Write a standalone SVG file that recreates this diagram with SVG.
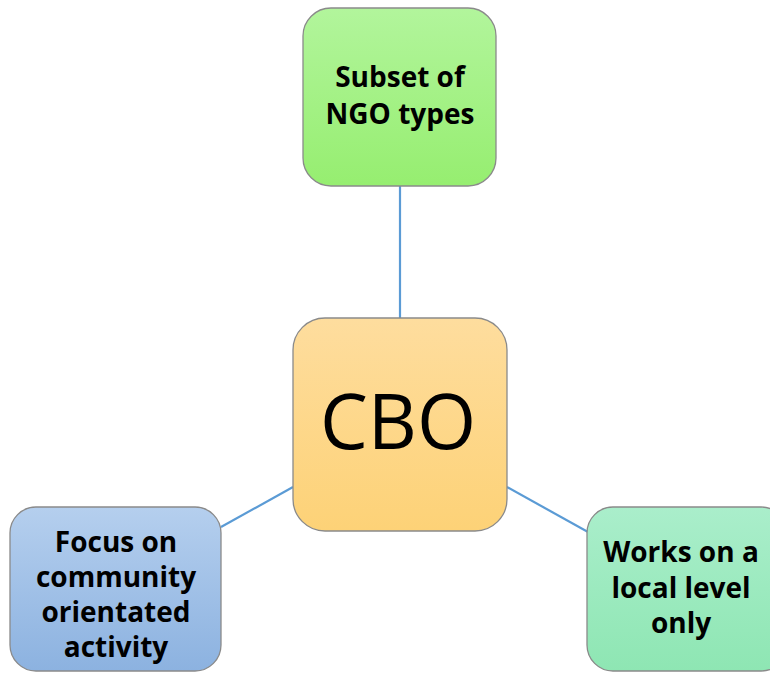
<svg xmlns="http://www.w3.org/2000/svg" width="770" height="673" viewBox="0 0 770 673">
<style>
.box{stroke:#8a8a8a;stroke-width:1.3}
.lbl{font-family:"Open Sans","Liberation Sans",sans-serif;font-weight:bold;font-size:28px;fill:#000;text-anchor:middle}
.big{font-family:"Open Sans","Liberation Sans",sans-serif;font-size:76px;fill:#000;text-anchor:middle}
.conn{stroke:#5b9bd5;stroke-width:2.2;fill:none}
</style>
<defs>
<linearGradient id="gTop" x1="0" y1="0" x2="0" y2="1"><stop offset="0" stop-color="#b2f59c"/><stop offset="1" stop-color="#96ee70"/></linearGradient>
<linearGradient id="gCtr" x1="0" y1="0" x2="0" y2="1"><stop offset="0" stop-color="#fedd9e"/><stop offset="1" stop-color="#fdd277"/></linearGradient>
<linearGradient id="gLeft" x1="0" y1="0" x2="0" y2="1"><stop offset="0" stop-color="#b5cfee"/><stop offset="1" stop-color="#8cb2e0"/></linearGradient>
<linearGradient id="gRight" x1="0" y1="0" x2="0" y2="1"><stop offset="0" stop-color="#aaeecb"/><stop offset="1" stop-color="#8ee6b3"/></linearGradient>
</defs>
<rect width="770" height="673" fill="#fff"/>
<g id="connectors">
<line class="conn" x1="400" y1="186" x2="400" y2="318"/>
<line class="conn" x1="293" y1="487" x2="221" y2="527"/>
<line class="conn" x1="507" y1="487" x2="588" y2="532"/>
</g>
<g id="node-top">
<rect class="box" x="303" y="8" width="193" height="178" rx="28" fill="url(#gTop)"/>
<text class="lbl" x="400" y="87">Subset of</text>
<text class="lbl" x="400" y="124">NGO types</text>
</g>
<g id="node-center">
<rect class="box" x="293" y="318" width="214" height="213" rx="32" fill="url(#gCtr)"/>
<text class="big" x="398" y="449">CBO</text>
</g>
<g id="node-left">
<rect class="box" x="10" y="507" width="211" height="164" rx="26" fill="url(#gLeft)"/>
<text class="lbl" x="116" y="552">Focus on</text>
<text class="lbl" x="116" y="587">community</text>
<text class="lbl" x="116" y="622">orientated</text>
<text class="lbl" x="116" y="657">activity</text>
</g>
<g id="node-right">
<rect class="box" x="587" y="507" width="200" height="164" rx="26" fill="url(#gRight)"/>
<text class="lbl" x="681" y="562">Works on a</text>
<text class="lbl" x="681" y="598">local level</text>
<text class="lbl" x="681" y="633">only</text>
</g>
</svg>
